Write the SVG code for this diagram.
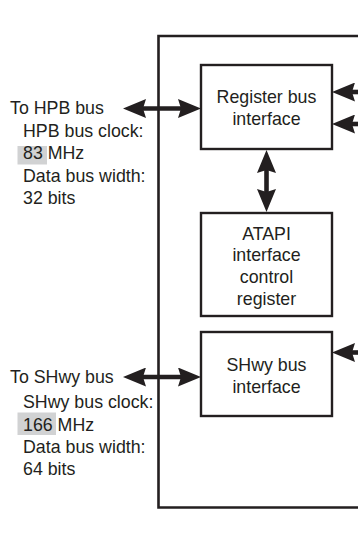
<svg xmlns="http://www.w3.org/2000/svg" width="358" height="555" viewBox="0 0 358 555">
<style>
  text { font-family: "Liberation Sans", Arial, sans-serif; font-size: 17.8px; fill: #231f20; }
  .c { text-anchor: middle; }
  .box { fill: #ffffff; stroke: #231f20; stroke-width: 2.4; }
  .outer { fill: none; stroke: #231f20; stroke-width: 2.6; }
  .bus { stroke: #231f20; stroke-width: 4.6; fill: none; }
  .hl { fill: #d1d2d3; }
</style>
<defs>
  <marker id="ah" viewBox="0 0 23 19" refX="12" refY="9.5" markerWidth="23" markerHeight="19" markerUnits="userSpaceOnUse" orient="auto-start-reverse">
    <path d="M0,0 L23,9.5 L0,19 L3,9.5 Z" fill="#231f20"/>
  </marker>
</defs>
<rect id="bg" x="0" y="0" width="358" height="555" fill="#ffffff"/>
<g id="outer-block">
  <path class="outer" d="M362,36 L158.5,36 L158.5,507.5 L362,507.5"/>
</g>
<g id="register-bus-interface">
  <rect class="box" x="201" y="65" width="131" height="84"/>
  <text class="c" x="266.5" y="103">Register bus</text>
  <text class="c" x="266.5" y="124.5">interface</text>
</g>
<g id="atapi-register">
  <rect class="box" x="201" y="213" width="131" height="103"/>
  <text class="c" x="266.5" y="239.5">ATAPI</text>
  <text class="c" x="266.5" y="261">interface</text>
  <text class="c" x="266.5" y="283">control</text>
  <text class="c" x="266.5" y="304.5">register</text>
</g>
<g id="shwy-bus-interface">
  <rect class="box" x="201" y="332" width="131" height="84"/>
  <text class="c" x="266.5" y="371">SHwy bus</text>
  <text class="c" x="266.5" y="392.5">interface</text>
</g>
<g id="hpb-label">
  <rect class="hl" x="17.5" y="146" width="29.5" height="18.5"/>
  <text x="10" y="114">To HPB bus</text>
  <text x="23" y="136.5">HPB bus clock:</text>
  <text x="23" y="159">83 MHz</text>
  <text x="23" y="181.5">Data bus width:</text>
  <text x="23" y="203.5">32 bits</text>
</g>
<g id="shwy-label">
  <rect class="hl" x="17.5" y="412.5" width="38.5" height="22.5"/>
  <text x="10" y="383">To SHwy bus</text>
  <text x="23" y="408">SHwy bus clock:</text>
  <text x="23" y="430.5">166 MHz</text>
  <text x="23" y="452.5">Data bus width:</text>
  <text x="23" y="474.5">64 bits</text>
</g>
<g id="connectors">
  <line class="bus" x1="134" y1="108.5" x2="190" y2="108.5" marker-start="url(#ah)" marker-end="url(#ah)"/>
  <line class="bus" x1="134" y1="377" x2="190" y2="377" marker-start="url(#ah)" marker-end="url(#ah)"/>
  <line class="bus" x1="266.5" y1="161" x2="266.5" y2="201" marker-start="url(#ah)" marker-end="url(#ah)"/>
  <line class="bus" x1="364" y1="92" x2="343" y2="92" marker-end="url(#ah)"/>
  <line class="bus" x1="364" y1="124" x2="343" y2="124" marker-end="url(#ah)"/>
  <line class="bus" x1="364" y1="352.5" x2="343" y2="352.5" marker-end="url(#ah)"/>
</g>
</svg>
